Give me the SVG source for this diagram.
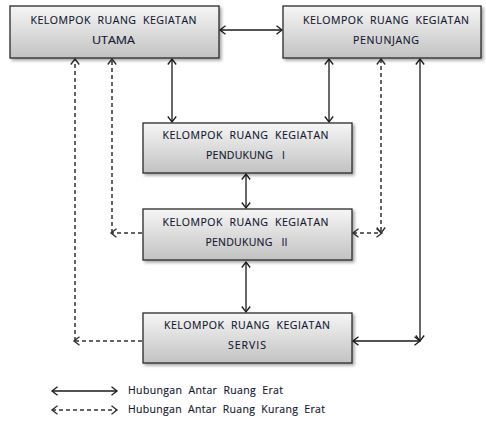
<svg xmlns="http://www.w3.org/2000/svg" width="486" height="421" viewBox="0 0 486 421">
<style>
.box{fill:url(#g);stroke:#2a2a2a;stroke-width:1.3;filter:url(#sh)}
.t{font-family:"Open Sans","Liberation Sans",sans-serif;font-size:10.5px;fill:#141830;text-anchor:middle;stroke:#141830;stroke-width:0.15}
.lg{font-family:"Open Sans","Liberation Sans",sans-serif;font-size:10.5px;fill:#141830;stroke:#141830;stroke-width:0.15}
.s{fill:none;stroke:#1a1a1a;stroke-width:1.3}
.d{fill:none;stroke:#333;stroke-width:1.5;stroke-dasharray:4 3}
</style>
<defs>
<linearGradient id="g" x1="0" y1="0" x2="0" y2="1">
<stop offset="0" stop-color="#f6f6f6"/>
<stop offset="1" stop-color="#c2c2c2"/>
</linearGradient>
<filter id="sh" x="-10%" y="-10%" width="125%" height="140%">
<feDropShadow dx="2" dy="2" stdDeviation="1.4" flood-color="#000" flood-opacity="0.35"/>
</filter>
<marker id="a" markerUnits="userSpaceOnUse" markerWidth="12" markerHeight="12" viewBox="-7 -6 8 12" refX="0" refY="0" orient="auto-start-reverse">
<path d="M-5.5,-4.2 L0,0 L-5.5,4.2" fill="none" stroke="#1a1a1a" stroke-width="1.3"/>
</marker>
<marker id="ad" markerUnits="userSpaceOnUse" markerWidth="12" markerHeight="12" viewBox="-7 -6 8 12" refX="0" refY="0" orient="auto-start-reverse">
<path d="M-5.5,-4.2 L0,0 L-5.5,4.2" fill="none" stroke="#333" stroke-width="1.4"/>
</marker>
</defs>
<rect width="486" height="421" fill="#fff"/>

<g id="connectors">
<path class="s" d="M220,30 H282" marker-start="url(#a)" marker-end="url(#a)"/>
<path class="s" d="M172,59 V122" marker-start="url(#a)" marker-end="url(#a)"/>
<path class="s" d="M329,59 V122" marker-start="url(#a)" marker-end="url(#a)"/>
<path class="s" d="M246,174 V208" marker-start="url(#a)" marker-end="url(#a)"/>
<path class="s" d="M246,262 V312" marker-start="url(#a)" marker-end="url(#a)"/>
<path class="s" d="M420,59 V341" marker-start="url(#a)" marker-end="url(#a)"/>
<path class="s" d="M353,341 H420" marker-start="url(#a)" marker-end="url(#a)"/>
<path class="d" d="M112,233 V59" marker-end="url(#ad)"/>
<path class="d" d="M142,233 H111" marker-end="url(#ad)"/>
<path class="d" d="M75,341 V59" marker-end="url(#ad)"/>
<path class="d" d="M142,341 H74" marker-end="url(#ad)"/>
<path class="d" d="M381,59 V233" marker-start="url(#ad)" marker-end="url(#ad)"/>
<path class="d" d="M353,233 H382" marker-start="url(#ad)" marker-end="url(#ad)"/>
<path class="s" d="M52,391 H117" marker-start="url(#a)" marker-end="url(#a)"/>
<path class="d" d="M52,410 H117" marker-start="url(#ad)" marker-end="url(#ad)"/>
</g>

<g id="utama">
<rect class="box" x="10" y="6" width="209" height="52"/>
<text class="t" x="113.5" y="24" textLength="166" lengthAdjust="spacing" xml:space="preserve">KELOMPOK  RUANG  KEGIATAN</text>
<text class="t" x="113.5" y="44" textLength="43" lengthAdjust="spacingAndGlyphs">UTAMA</text>
</g>
<g id="penunjang">
<rect class="box" x="283" y="6" width="198" height="52"/>
<text class="t" x="386" y="24" textLength="166" lengthAdjust="spacing" xml:space="preserve">KELOMPOK  RUANG  KEGIATAN</text>
<text class="t" x="386" y="44" textLength="66" lengthAdjust="spacing">PENUNJANG</text>
</g>
<g id="pendukung1">
<rect class="box" x="143" y="123" width="209" height="50"/>
<text class="t" x="245.5" y="139" textLength="166" lengthAdjust="spacing" xml:space="preserve">KELOMPOK  RUANG  KEGIATAN</text>
<text class="t" x="245.5" y="159" textLength="79" lengthAdjust="spacing" xml:space="preserve">PENDUKUNG   I</text>
</g>
<g id="pendukung2">
<rect class="box" x="143" y="209" width="209" height="51"/>
<text class="t" x="245.5" y="225.5" textLength="166" lengthAdjust="spacing" xml:space="preserve">KELOMPOK  RUANG  KEGIATAN</text>
<text class="t" x="246.5" y="245.5" textLength="82" lengthAdjust="spacing" xml:space="preserve">PENDUKUNG   II</text>
</g>
<g id="servis">
<rect class="box" x="143" y="313" width="209" height="50"/>
<text class="t" x="247" y="329" textLength="166" lengthAdjust="spacing" xml:space="preserve">KELOMPOK  RUANG  KEGIATAN</text>
<text class="t" x="247" y="349" textLength="38" lengthAdjust="spacing">SERVIS</text>
</g>

<g id="legend">
<text class="lg" x="128" y="393.5" textLength="155" lengthAdjust="spacing" xml:space="preserve">Hubungan  Antar  Ruang  Erat</text>
<text class="lg" x="128" y="412.5" textLength="197" lengthAdjust="spacing" xml:space="preserve">Hubungan  Antar  Ruang  Kurang  Erat</text>
</g>
</svg>
